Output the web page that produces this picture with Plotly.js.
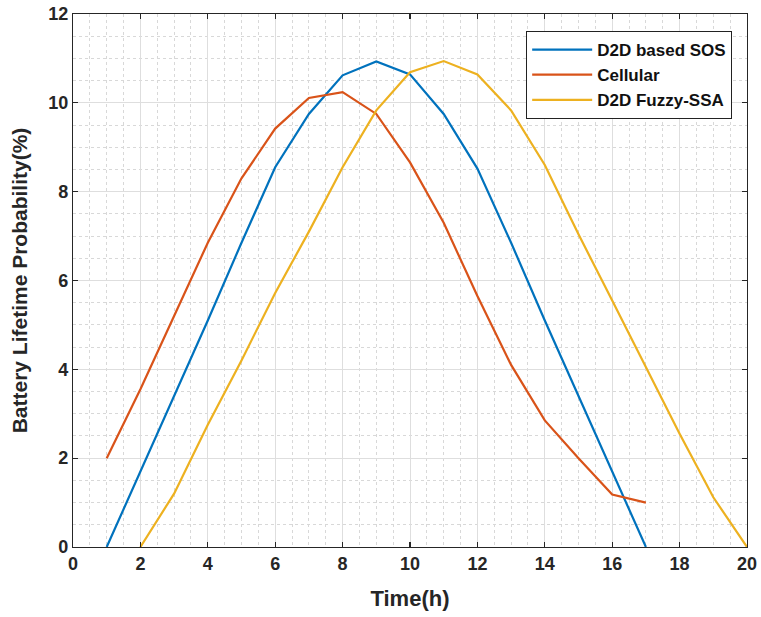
<!DOCTYPE html>
<html>
<head>
<meta charset="utf-8">
<script src="https://cdn.plot.ly/plotly-3.0.1.min.js"></script>
<style>html,body{margin:0;padding:0;background:#fff;}#chart{width:761px;height:617px;}</style>
</head>
<body>
<div id="chart"></div>
<script>
const timeSOS = [1,2,3,4,5,6,7,8,9,10,11,12,13,14,15,16,17];
const valuesSOS = [0,1.7,3.4,5.1,6.85,8.55,9.75,10.62,10.93,10.64,9.75,8.52,6.85,5.1,3.4,1.7,0];
const timeCell = [1,2,3,4,5,6,7,8,9,10,11,12,13,14,15,16,17];
const valuesCell = [2.0,3.55,5.2,6.85,8.3,9.42,10.11,10.24,9.75,8.66,7.3,5.65,4.1,2.85,2.0,1.18,1.0];
const timeFuzzy = [2,3,4,5,6,7,8,9,10,11,12,13,14,15,16,17,18,19,20];
const valuesFuzzy = [0,1.2,2.75,4.2,5.72,7.1,8.55,9.83,10.69,10.94,10.64,9.83,8.6,7.04,5.55,4.05,2.55,1.12,0];
const seriesNames = ['D2D based SOS','Cellular','D2D Fuzzy-SSA'];
const colors = ['#0072BD','#D95319','#EDB120'];
const xTicks = [0,2,4,6,8,10,12,14,16,18,20];
const yTicks = [0,2,4,6,8,10,12];

const FONT = 'Liberation Sans, Arial, sans-serif';
const TXT = '#262626';

const traces = [
  {x: timeSOS, y: valuesSOS, name: seriesNames[0]},
  {x: timeCell, y: valuesCell, name: seriesNames[1]},
  {x: timeFuzzy, y: valuesFuzzy, name: seriesNames[2]}
].map((t, i) => Object.assign(t, {type:'scatter', mode:'lines', line:{color:colors[i], width:2.2}}));

const axisCommon = {
  showline: true, linecolor: TXT, linewidth: 1.2, mirror: 'ticks',
  ticks: 'inside', ticklen: 5, tickcolor: TXT, tickwidth: 1.2,
  showgrid: true, gridcolor: '#dedede', gridwidth: 1,
  zeroline: false,
  tickfont: {family: FONT, size: 18, color: TXT, weight: 'bold'},
  minor: {dtick: 0.5, showgrid: true, gridcolor: '#d8d8d8', griddash: 'dot', gridwidth: 1, ticks: ''}
};

const layout = {
  width: 761, height: 617,
  margin: {l: 73, r: 14, t: 14, b: 70},
  paper_bgcolor: '#fff', plot_bgcolor: '#fff',
  showlegend: true,
  xaxis: Object.assign({}, axisCommon, {
    range: [0, 20], tickvals: xTicks, ticktext: xTicks.map(String),
    title: {text: '<b>Time(h)</b>', font: {family: FONT, size: 22, color: TXT}, standoff: 17}
  }),
  yaxis: Object.assign({}, axisCommon, {
    range: [0, 12], tickvals: yTicks, ticktext: yTicks.map(String),
    title: {text: '<b>Battery Lifetime Probability(%)</b>', font: {family: FONT, size: 21, color: TXT}, standoff: 14}
  }),
  legend: {
    x: 0.978, xanchor: 'right', y: 0.968, yanchor: 'top',
    bgcolor: '#fff', bordercolor: '#222', borderwidth: 1,
    font: {family: FONT, size: 17, color: '#111', weight: 'bold'},
    itemwidth: 60, tracegroupgap: 0
  }
};

Plotly.newPlot('chart', traces, layout, {displayModeBar: false, staticPlot: true});
</script>
</body>
</html>
